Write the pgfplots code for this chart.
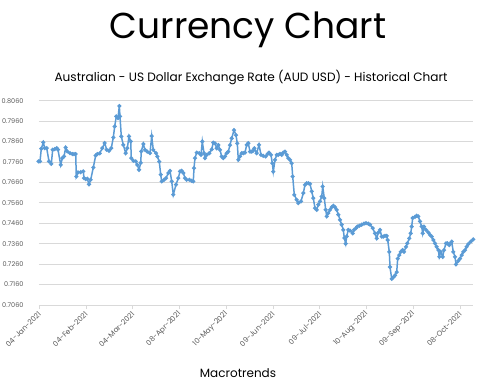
\documentclass[border=0pt]{standalone}
\usepackage{fontspec}
\setmainfont{Poppins}
\usepackage{pgfplots}
\pgfplotsset{compat=1.18}
\definecolor{linec}{HTML}{5B9BD5}
\definecolor{gridc}{HTML}{D9D9D9}
\definecolor{tickc}{HTML}{595959}
\begin{document}
\begin{tikzpicture}[x=1pt,y=1pt]
\useasboundingbox (0,0) rectangle (492,386);
\node[font=\fontsize{36}{40}\selectfont, text=black] at (248,356) {Currency Chart};
\node[font=\fontsize{12.1}{14}\selectfont, text=black] at (251,309) {Australian - US Dollar Exchange Rate (AUD USD) - Historical Chart};
\node[font=\fontsize{12}{14}\selectfont, text=black] at (238,13) {Macrotrends};
\begin{axis}[
  at={(39pt,81pt)}, anchor=south west,
  scale only axis, width=434.3pt, height=204.3pt,
  xmin=39, xmax=473.3, ymin=0.706, ymax=0.806,
  axis x line*=bottom, axis y line*=left,
  y axis line style={draw=none}, ytick style={draw=none},
  x axis line style={draw=gridc, line width=0.8pt, -},
  xtick style={draw=gridc, line width=0.8pt},
  tick align=outside, major tick length=4pt,
  ymajorgrids, grid style={gridc, line width=0.8pt},
  ytick={0.706,0.716,0.726,0.736,0.746,0.756,0.766,0.776,0.786,0.796,0.806},
  xtick={39.3,86.05,132.8,179.55,226.3,273.05,319.8,366.55,413.3,460.05},
  xticklabels={04-Jan-2021,04-Feb-2021,04-Mar-2021,08-Apr-2021,10-May-2021,09-Jun-2021,09-Jul-2021,10-Aug-2021,09-Sep-2021,08-Oct-2021},
  yticklabel style={font=\fontsize{6.5}{7}\selectfont, text=tickc, xshift=-8pt},
  xticklabel style={font=\fontsize{7.3}{8}\selectfont, text=tickc, rotate=45, anchor=east, xshift=1pt, yshift=-3pt},
  /pgf/number format/fixed, /pgf/number format/fixed zerofill, /pgf/number format/precision=4, /pgf/number format/assume math mode=true,
  clip=false,
]
\addplot[color=linec, line width=1.5pt, mark=*, mark size=1.2pt, mark options={solid, fill=linec}] coordinates {
(38.5,0.7763)(40.0,0.7763)(41.3,0.7825)(43.3,0.7856)(44.7,0.7828)(46.7,0.7828)(49.0,0.7763)(51.3,0.7751)(52.7,0.7820)(54.7,0.7823)(56.7,0.7828)(58.0,0.7820)(60.7,0.7746)(62.3,0.7779)(64.0,0.7787)(65.7,0.7831)(67.3,0.7812)(70.0,0.7803)(72.3,0.7799)(74.0,0.7799)(75.7,0.7799)(76.3,0.7689)(78.0,0.7709)(80.7,0.7710)(83.3,0.7714)(84.0,0.7681)(85.7,0.7676)(87.3,0.7678)(89.0,0.7651)(90.7,0.7673)(93.3,0.7733)(95.7,0.7792)(97.3,0.7799)(99.7,0.7802)(102.3,0.7828)(104.7,0.7853)(106.7,0.7820)(109.0,0.7815)(111.3,0.7828)(113.3,0.7880)(114.7,0.7934)(116.3,0.7983)(118.0,0.7975)(119.3,0.8034)(120.0,0.7983)(121.3,0.7885)(123.3,0.7844)(125.7,0.7803)(127.3,0.7828)(129.0,0.7885)(130.7,0.7861)(131.3,0.7779)(133.3,0.7766)(135.7,0.7763)(137.3,0.7746)(139.0,0.7722)(140.7,0.7756)(141.3,0.7812)(143.3,0.7848)
(145.0,0.7819)(147.3,0.7811)(150.0,0.7803)(151.7,0.7887)(153.3,0.7819)(156.0,0.7803)(157.3,0.7787)(159.3,0.7762)(160.7,0.7698)(161.7,0.7665)(164.0,0.7673)(166.0,0.7681)(168.3,0.7706)(170.0,0.7717)(171.7,0.7665)(173.3,0.7600)(176.0,0.7649)(178.3,0.7681)(180.0,0.7714)(181.7,0.7717)(183.3,0.7706)(185.0,0.7681)(186.7,0.7673)(189.3,0.7673)(191.7,0.7668)(193.3,0.7665)(194.0,0.7730)(195.0,0.7779)(196.7,0.7806)(199.3,0.7803)(201.0,0.7795)(202.3,0.7860)(204.0,0.7803)(205.0,0.7779)(206.7,0.7795)(209.3,0.7803)(211.7,0.7822)(213.3,0.7855)(215.0,0.7851)(216.7,0.7827)(218.3,0.7843)(220.0,0.7819)(221.7,0.7787)(223.3,0.7779)(225.0,0.7787)(226.7,0.7803)(228.3,0.7811)(230.0,0.7843)(231.7,0.7876)(234.0,0.7916)(236.0,0.7892)(237.3,0.7851)(238.3,0.7771)(240.0,0.7787)(241.7,0.7803)(243.3,0.7803)(245.0,0.7806)
(246.7,0.7844)(248.3,0.7852)(250.0,0.7811)(251.7,0.7811)(253.3,0.7816)(254.3,0.7827)(256.7,0.7803)(259.0,0.7844)(261.0,0.7795)(263.3,0.7790)(265.7,0.7787)(267.7,0.7800)(269.0,0.7806)(271.0,0.7795)(272.3,0.7754)(273.3,0.7713)(275.0,0.7770)(276.7,0.7795)(278.3,0.7795)(280.0,0.7800)(281.7,0.7795)(283.3,0.7806)(285.0,0.7811)(286.7,0.7795)(288.3,0.7779)(290.0,0.7770)(291.7,0.7754)(292.7,0.7689)(294.3,0.7599)(296.7,0.7575)(298.3,0.7559)(301.0,0.7567)(303.3,0.7608)(305.0,0.7648)(306.7,0.7656)(308.3,0.7656)(310.0,0.7653)(311.7,0.7616)(313.3,0.7583)(315.0,0.7534)(316.7,0.7526)(318.3,0.7551)(320.0,0.7567)(321.7,0.7591)(322.7,0.7640)(324.3,0.7583)(325.7,0.7526)(326.7,0.7494)(328.3,0.7510)(330.0,0.7526)(331.7,0.7539)(333.3,0.7546)(335.0,0.7539)(336.7,0.7526)(338.3,0.7502)(340.0,0.7477)(341.7,0.7453)(343.3,0.7428)(344.3,0.7388)(345.7,0.7360)(346.7,0.7396)(348.3,0.7428)(350.0,0.7424)
(352.7,0.7411)(354.0,0.7428)(356.0,0.7436)(357.3,0.7444)(359.3,0.7448)(361.7,0.7453)(364.0,0.7458)(366.0,0.7461)(368.3,0.7458)(370.0,0.7453)(372.7,0.7436)(375.0,0.7411)(376.7,0.7386)(378.3,0.7415)(380.0,0.7428)(381.7,0.7395)(383.3,0.7395)(385.0,0.7398)(386.7,0.7398)(387.7,0.7378)(389.3,0.7320)(390.0,0.7246)(391.7,0.7188)(393.3,0.7196)(395.0,0.7205)(396.7,0.7221)(397.7,0.7287)(399.3,0.7304)(400.7,0.7320)(402.7,0.7329)(404.0,0.7320)(406.0,0.7345)(407.3,0.7362)(409.3,0.7386)(410.7,0.7411)(411.7,0.7444)(412.7,0.7486)(415.0,0.7491)(416.7,0.7497)(418.3,0.7494)(420.0,0.7469)(421.7,0.7444)(422.7,0.7411)(424.0,0.7444)(426.0,0.7428)(428.3,0.7415)(430.0,0.7403)(431.7,0.7395)(433.3,0.7378)(435.0,0.7362)(436.7,0.7345)(438.3,0.7329)(439.3,0.7296)(440.7,0.7320)(442.7,0.7296)(444.0,0.7329)(446.0,0.7362)(447.3,0.7362)(449.3,0.7353)(450.7,0.7362)(451.7,0.7370)(453.3,0.7320)(455.0,0.7296)(456.0,0.7259)(458.3,0.7276)(460.0,0.7287)(461.7,0.7304)(463.3,0.7320)(465.0,0.7329)(466.7,0.7345)(468.3,0.7358)(470.7,0.7370)(473.3,0.7381)
};
\end{axis}
\end{tikzpicture}
\end{document}
